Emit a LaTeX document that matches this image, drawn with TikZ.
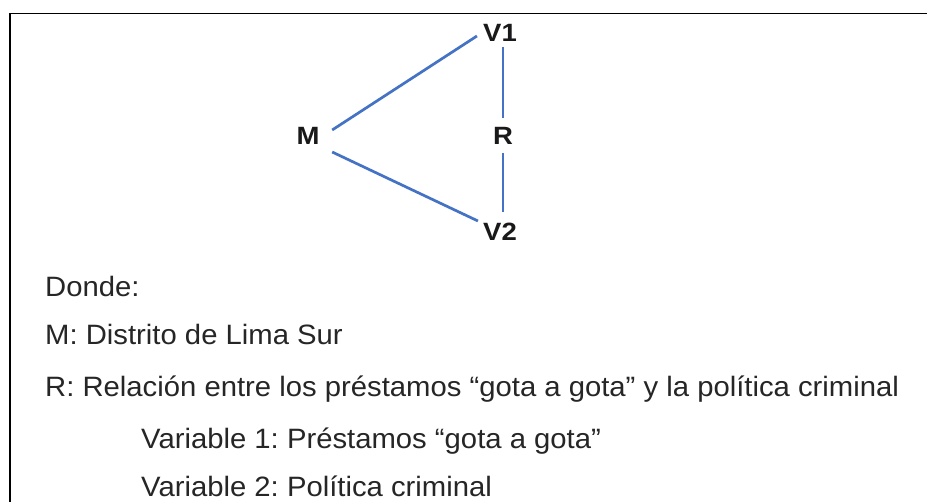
\documentclass[tikz,border=0pt]{standalone}
\usepackage{fontspec}
\setmainfont{Liberation Sans}
\definecolor{linkblue}{HTML}{4472C4}
\begin{document}
\frenchspacing
\begin{tikzpicture}[x=1pt,y=-1pt,
  lbl/.style={font=\fontsize{25}{28}\selectfont\bfseries, inner sep=0pt, text=black!90, xscale=1.1},
  body/.style={font=\fontsize{28}{32}\selectfont, inner sep=0pt, anchor=base west, text=black!85, xscale=1.045},
  link/.style={draw=linkblue, line width=2.7pt},
  frame/.style={draw=black, line width=1.8pt}]
\useasboundingbox (0,0) rectangle (927,502);
\fill[white] (0,0) rectangle (927,502);
\coordinate (fl) at (10,502);
\coordinate (fc) at (10,13.5);
\coordinate (fr) at (927,13.5);
\draw[frame] (fl) -- (fc) -- (fr);

\node[lbl] (M) at (308,136) {M};
\node[lbl] (R) at (503,136) {R};
\node[lbl] (V1) at (500,33) {V1};
\node[lbl] (V2) at (500,232) {V2};

\draw[link] ([shift={(12.5,-6)}]M.east) -- ([shift={(-6,3)}]V1.west);
\draw[link] ([shift={(12.5,16)}]M.east) -- ([shift={(-5,-11)}]V2.west);
\draw[link] ([shift={(3,5)}]V1.south) -- ([shift={(0,-9)}]R.north);
\draw[link] ([shift={(0,8)}]R.south) -- ([shift={(3,-11)}]V2.north);

\node[body] (t1) at (45,297) {Donde:};
\node[body] (t2) at (45,345) {M: Distrito de Lima Sur};
\node[body] (t3) at (45,397) {R: Relación entre los préstamos “gota a gota” y la política criminal};
\node[body] (t4) at (141,449) {Variable 1: Préstamos “gota a gota”};
\node[body] (t5) at (141,496.5) {Variable 2: Política criminal};
\end{tikzpicture}
\end{document}
